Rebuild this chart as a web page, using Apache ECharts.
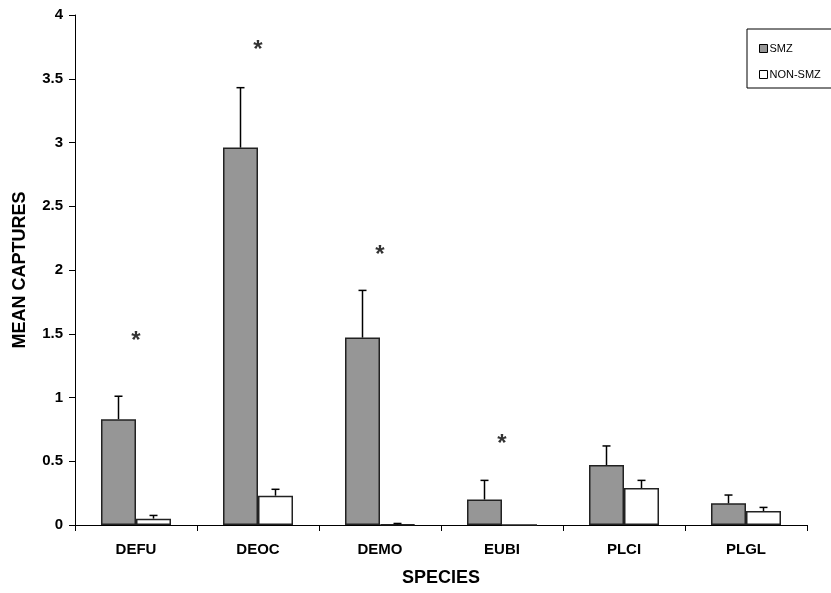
<!DOCTYPE html>
<html><head><meta charset="utf-8">
<script src="https://cdn.jsdelivr.net/npm/echarts@6/dist/echarts.min.js"></script>
<style>html,body{margin:0;padding:0;background:#fff}#c{width:831px;height:593px}</style>
</head><body><div id="c"></div>
<script>
const categories = ['DEFU','DEOC','DEMO','EUBI','PLCI','PLGL'];
const smzMean = [0.83, 2.96, 1.47, 0.20, 0.47, 0.17];
const smzErr = [0.18, 0.47, 0.37, 0.15, 0.15, 0.065];
const nonMean = [0.05, 0.23, 0.005, 0.0, 0.29, 0.11];
const nonErr = [0.025, 0.05, 0.007, 0.0, 0.06, 0.028];
const starY = [1.49, 3.77, 2.16, 0.68, null, null];
const yTicks = [0, 0.5, 1, 1.5, 2, 2.5, 3, 3.5, 4];

const BW = 35;
const font = 'Liberation Sans, Arial, sans-serif';

function errSeries(means, errs, side) {
  return {
    type: 'custom',
    silent: true,
    z: 5,
    data: means.map((m, i) => [i, m, m + errs[i]]),
    encode: { x: 0, y: [1, 2] },
    renderItem: function (params, api) {
      const i = api.value(0);
      const lo = api.coord([i, api.value(1)]);
      const hi = api.coord([i, api.value(2)]);
      if (api.value(2) - api.value(1) <= 0) return null;
      const x = lo[0] + side * BW / 2;
      const st = { stroke: '#000', lineWidth: 1.5 };
      return {
        type: 'group',
        children: [
          { type: 'line', shape: { x1: x, y1: lo[1], x2: x, y2: hi[1] }, style: st },
          { type: 'line', shape: { x1: x - 4, y1: hi[1], x2: x + 4, y2: hi[1] }, style: st }
        ]
      };
    }
  };
}

const chart = echarts.init(document.getElementById('c'));
chart.setOption({
  animation: false,
  backgroundColor: '#fff',
  textStyle: { fontFamily: font },
  grid: { left: 75, right: 24, top: 15, bottom: 68 },
  legend: {
    orient: 'vertical',
    left: 754, top: 38,
    itemWidth: 8, itemHeight: 8, itemGap: 15,
    textStyle: { fontSize: 11, color: '#000', fontFamily: font, padding: [0, 0, 0, -3] },
    data: [
      { name: 'SMZ', icon: 'rect', itemStyle: { color: '#969696', borderColor: '#000', borderWidth: 1 } },
      { name: 'NON-SMZ', icon: 'rect', itemStyle: { color: '#fff', borderColor: '#000', borderWidth: 1 } }
    ]
  },
  graphic: [
    { type: 'rect', shape: { x: 747, y: 29, width: 100, height: 59 }, style: { fill: 'none', stroke: '#000', lineWidth: 1 }, z: 0 }
  ],
  xAxis: {
    type: 'category',
    data: categories,
    name: 'SPECIES',
    nameLocation: 'middle',
    nameGap: 44,
    nameTextStyle: { fontSize: 18, fontWeight: 'bold', color: '#000', fontFamily: font },
    axisLine: { lineStyle: { color: '#000', width: 1 } },
    axisTick: { show: true, alignWithLabel: false, length: 6, lineStyle: { color: '#000' } },
    axisLabel: { fontSize: 15, fontWeight: 'bold', color: '#000', margin: 17, fontFamily: font },
    splitLine: { show: false }
  },
  yAxis: {
    type: 'value',
    min: 0, max: 4, interval: 0.5,
    name: 'MEAN CAPTURES',
    nameLocation: 'middle',
    nameGap: 46,
    nameRotate: 90,
    nameTextStyle: { fontSize: 18, fontWeight: 'bold', color: '#000', fontFamily: font },
    axisLine: { show: true, lineStyle: { color: '#000', width: 1 } },
    axisTick: { show: true, length: 6, lineStyle: { color: '#000' } },
    axisLabel: { fontSize: 15, fontWeight: 'bold', color: '#000', margin: 12, fontFamily: font,
      formatter: v => yTicks.includes(v) ? String(v) : '' },
    splitLine: { show: false }
  },
  series: [
    { name: 'SMZ', type: 'bar', data: smzMean, barWidth: BW, barGap: '0%',
      itemStyle: { color: '#969696', borderColor: '#222', borderWidth: 1.5 } },
    { name: 'NON-SMZ', type: 'bar', data: nonMean, barWidth: BW,
      itemStyle: { color: '#fff', borderColor: '#222', borderWidth: 1.5 } },
    errSeries(smzMean, smzErr, -1),
    errSeries(nonMean, nonErr, 1),
    { type: 'scatter', silent: true, symbolSize: 1, itemStyle: { color: 'rgba(0,0,0,0)' },
      data: starY.map((v, i) => v == null ? null : [i, v]).filter(d => d),
      label: { show: true, position: 'inside', formatter: '*', fontSize: 24, fontWeight: 'bold', color: '#000',
        fontFamily: font, offset: [0, 6] } }
  ]
});
</script></body></html>
